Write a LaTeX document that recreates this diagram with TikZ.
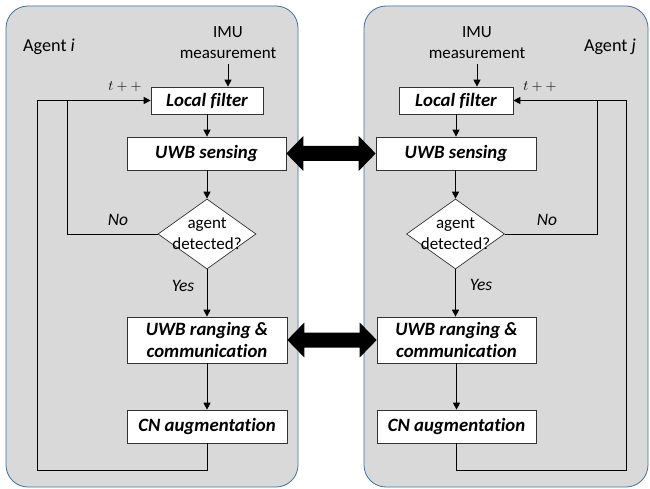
\documentclass[tikz,border=0pt]{standalone}
\usepackage{fontspec}
\setmainfont{Carlito}[Ligatures={NoCommon}]
\usetikzlibrary{arrows.meta,shapes.geometric,calc}
\definecolor{panelfill}{HTML}{D9D9D9}
\definecolor{panelborder}{HTML}{41719C}
\begin{document}
\begin{tikzpicture}[x=1pt,y=-1pt,
  panel/.style={draw=panelborder,fill=panelfill,line width=0.8pt,rounded corners=22pt},
  procbox/.style={draw=black!80,fill=white,line width=0.7pt,inner sep=0pt,align=center,font=\fontsize{18.8}{21.5}\selectfont\bfseries\itshape},
  decbox/.style={draw=black!80,fill=white,line width=0.7pt,diamond,inner sep=0pt,minimum width=98pt,minimum height=70pt},
  plain/.style={font=\fontsize{17}{21}\selectfont,align=center,inner sep=0pt},
  lbl/.style={font=\fontsize{17.5}{20}\selectfont\itshape,inner sep=0pt},
  agentlbl/.style={font=\fontsize{18.2}{21}\selectfont,inner sep=0pt},
  arr/.style={-{Triangle[length=7pt,width=7pt]},line width=1pt},
  line/.style={line width=1pt},
  bigarrow/.style={fill=black}
]
\useasboundingbox (0,0) rectangle (650,489);
% panels
\draw[panel] (6,6) rectangle (298,487);
\draw[panel] (364,6) rectangle (648,487);

% ---------- Agent i ----------
\node[agentlbl] (agL) at (49,47) {Agent \textit{i}};
\node[plain] (imuL) at (228,43) {IMU\\measurement};
\node[procbox,minimum width=112pt,minimum height=27pt] (lfL) at (207,100.5) {Local filter};
\node[procbox,minimum width=159pt,minimum height=33pt] (snL) at (206.5,153.5) {UWB sensing};
\node[decbox] (dL) at (207,234) {};
\node[plain] (dLt) at (207,234) {agent\\detected?};
\node[procbox,minimum width=160pt,minimum height=46pt] (rgL) at (207,340) {UWB ranging \&\\communication};
\node[procbox,minimum width=160pt,minimum height=33pt] (cnL) at (207,426.5) {CN augmentation};
\node[lbl] (noL) at (118,220) {No};
\node[lbl] (yesL) at (183,286) {Yes};
\node[inner sep=0pt,font=\fontsize{15}{18}\selectfont] (tL) at (125,87) {$t++$};
\coordinate (jL) at (67,100.5);
\coordinate (oL) at (37,470);

\draw[arr] (imuL.south -| 228,0) ++(0,5) -- (228,0 |- lfL.north);
\draw[arr] (lfL.south) -- (snL.north -| lfL.south);
\draw[arr] (dL.north |- snL.south) -- (dL.north);
\draw[arr] (dL.south) -- (rgL.north -| dL.south);
\draw[arr] (rgL.south) -- (cnL.north);
\draw[line] (dL.west) -| (jL);
\draw[arr] (cnL.south) |- (oL) |- (lfL.west);

% ---------- Agent j ----------
\node[agentlbl] (agR) at (610,47) {Agent \textit{j}};
\node[plain] (imuR) at (477,43) {IMU\\measurement};
\node[procbox,minimum width=114pt,minimum height=27pt] (lfR) at (456,100.5) {Local filter};
\node[procbox,minimum width=160pt,minimum height=33pt] (snR) at (456,153.5) {UWB sensing};
\node[decbox] (dR) at (455.5,234) {};
\node[plain] (dRt) at (455.5,234) {agent\\detected?};
\node[procbox,minimum width=159pt,minimum height=46pt] (rgR) at (456.5,340) {UWB ranging \&\\communication};
\node[procbox,minimum width=159pt,minimum height=33pt] (cnR) at (456.5,426.5) {CN augmentation};
\node[lbl] (noR) at (547,220) {No};
\node[lbl] (yesR) at (481,285) {Yes};
\node[inner sep=0pt,font=\fontsize{15}{18}\selectfont] (tR) at (540,87) {$t++$};
\coordinate (jR) at (597,100.5);
\coordinate (oR) at (626,470);

\draw[arr] (477,0 |- imuR.south) ++(0,5) -- (477,0 |- lfR.north);
\draw[arr] (lfR.south) -- (snR.north -| lfR.south);
\draw[arr] (dR.north |- snR.south) -- (dR.north);
\draw[arr] (dR.south) -- (rgR.north -| dR.south);
\draw[arr] (rgR.south -| cnR.north) -- (cnR.north);
\draw[line] (dR.east) -| (jR);
\draw[arr] (cnR.south) |- (oR) |- (lfR.east);

% ---------- big double arrows ----------
\fill[bigarrow] (snL.east) -- ++(17,-17.5) -- ++(0,10) -|
  ($(snR.west)+(-17,-7.5)$) -- ++(0,-10) -- (snR.west) -- ++(-17,17.5) -- ++(0,-10) -|
  ($(snL.east)+(17,7.5)$) -- ++(0,10) -- cycle;
\fill[bigarrow] (rgL.east) -- ++(17,-17.5) -- ++(0,10) -|
  ($(rgR.west)+(-17,-7.5)$) -- ++(0,-10) -- (rgR.west) -- ++(-17,17.5) -- ++(0,-10) -|
  ($(rgL.east)+(17,7.5)$) -- ++(0,10) -- cycle;
\end{tikzpicture}
\end{document}
